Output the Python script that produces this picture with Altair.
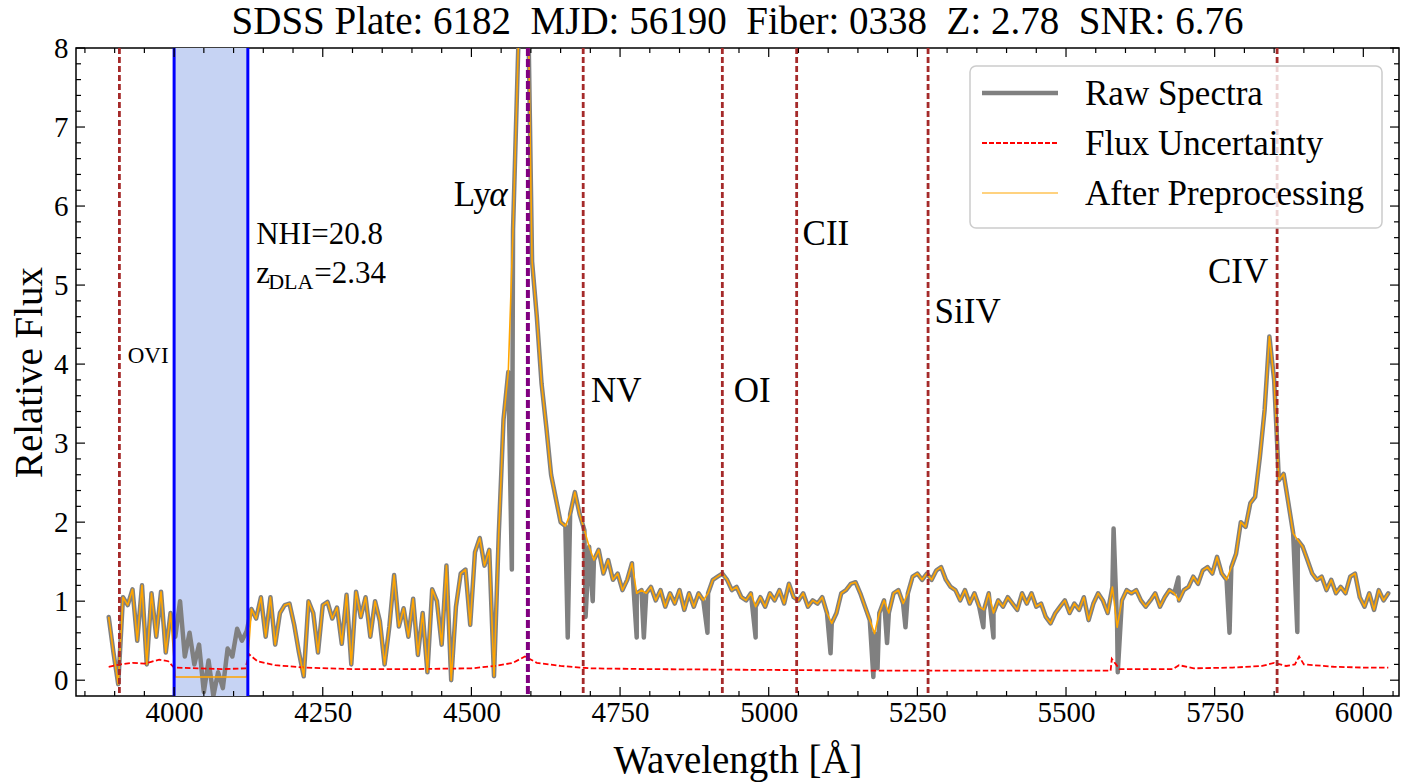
import altair as alt
import numpy as np
import pandas as pd

FONT = "Liberation Serif"
TITLE = "SDSS Plate: 6182 \u00a0MJD: 56190 \u00a0Fiber: 0338 \u00a0Z: 2.78 \u00a0SNR: 6.76"

# ---- spectrum ----
WAVE_START = 3890
WAVE_STEP = 8
FLUX_PRE = [
    0.80, 0.35, -0.05, 1.05, 0.95, 1.15, 0.50, 1.20, 0.20, 1.10, 0.55, 1.12, 0.35, 0.85,
    0.04, 0.04, 0.04, 0.04, 0.04, 0.04, 0.04, 0.04, 0.04, 0.04, 0.04, 0.04, 0.04, 0.04, 0.04, 0.04,
    0.90, 0.78, 1.05, 0.55, 1.05, 0.45, 0.85, 0.95, 0.97, 0.70,
    0.35, 0.05, 1.00, 0.85, 0.35, 0.95, 0.99, 0.78, 0.92, 0.46,
    1.08, 0.20, 1.12, 0.80, 1.05, 0.55, 1.00, 0.75, 0.20, 0.68,
    1.33, 0.68, 0.91, 0.55, 1.03, 0.32, 0.85, 0.10, 1.15, 1.00,
    0.45, 1.45, 0.00, 0.93, 1.35, 1.40, 0.70, 1.62, 1.80, 1.45,
    1.65, 0.05, 1.85, 3.30, 3.90, 5.70, 7.80, 9.80, 9.20, 5.30,
    4.60, 3.75, 3.20, 2.60, 2.30, 2.00, 1.95, 2.10, 2.38, 2.10,
    1.90, 1.69, 1.52, 1.65, 1.35, 1.52, 1.27, 1.35, 1.14, 1.27,
    1.48, 1.10, 1.14, 1.10, 1.18, 1.01, 1.14, 0.93, 1.10, 0.97,
    1.14, 0.89, 1.10, 0.93, 1.10, 1.01, 1.10, 1.27, 1.31, 1.35,
    1.27, 1.14, 1.18, 1.05, 1.01, 1.10, 0.93, 1.05, 0.93, 1.10,
    1.01, 1.14, 0.97, 1.22, 1.05, 1.01, 1.10, 0.93, 1.01, 0.97,
    1.05, 0.85, 0.72, 0.85, 1.10, 1.14, 1.22, 1.24, 1.10, 0.93,
    0.76, 0.59, 0.85, 1.01, 0.85, 1.10, 1.14, 0.97, 1.10, 1.31,
    1.35, 1.27, 1.35, 1.27, 1.39, 1.43, 1.27, 1.18, 1.14, 1.01,
    1.14, 0.97, 1.10, 0.93, 0.89, 1.10, 0.85, 1.01, 0.93, 1.05,
    0.97, 0.89, 1.10, 0.97, 1.10, 0.93, 0.97, 0.80, 0.72, 0.85,
    0.93, 1.01, 0.85, 0.97, 0.89, 1.05, 0.76, 0.97, 1.10, 1.01,
    0.85, 1.18, 0.67, 1.01, 1.14, 1.10, 1.14, 1.01, 0.93, 1.01,
    1.10, 0.93, 1.05, 1.14, 1.10, 1.01, 1.14, 1.18, 1.31, 1.22,
    1.39, 1.43, 1.35, 1.56, 1.35, 1.27, 1.43, 1.60, 2.00, 1.94,
    2.24, 2.32, 2.82, 3.42, 4.35, 3.80, 2.53, 2.61, 2.24, 1.86,
    1.77, 1.69, 1.52, 1.35, 1.27, 1.31, 1.14, 1.27, 1.10, 1.18,
    1.10, 1.31, 1.35, 1.05, 0.93, 1.10, 0.89, 1.14, 1.01, 1.10,
]
DLA_START_INDEX = 14
DLA_RAW = [0.55, 1.00, 0.30, 0.60, 0.20, 0.45, -0.15, 0.25, -0.20, 0.10, -0.10, 0.40, 0.30, 0.65, 0.50, 0.62]
SPIKE_WAVE = [4568, 4662, 4692, 4704, 4778, 4790, 4897, 4978, 5104, 5176, 5183, 5199, 5230,
              5361, 5378, 5580, 5587, 5689, 5775, 5889]
SPIKE_FLUX = [1.40, 0.54, 0.80, 1.00, 0.54, 0.54, 0.60, 0.54, 0.34, 0.04, 0.15, 0.47, 0.67,
              0.67, 0.54, 1.92, 0.10, 1.30, 0.60, 0.61]

ERR_WAVE = [3890, 3910, 3930, 3950, 3960, 3975, 3990, 4000, 4040, 4080, 4120, 4126, 4140, 4170,
            4220, 4300, 4400, 4500, 4540, 4570, 4590, 4610, 4650, 4700, 4800, 5000, 5200, 5400,
            5575, 5577, 5590, 5680, 5690, 5715, 5780, 5830, 5850, 5870, 5885, 5892, 5900, 5950,
            6000, 6042]
ERR_FLUX = [0.17, 0.20, 0.22, 0.21, 0.23, 0.26, 0.24, 0.16, 0.15, 0.14, 0.15, 0.33, 0.24, 0.19,
            0.16, 0.14, 0.14, 0.15, 0.18, 0.22, 0.30, 0.22, 0.18, 0.15, 0.14, 0.13, 0.12, 0.12,
            0.12, 0.27, 0.14, 0.14, 0.19, 0.15, 0.16, 0.18, 0.22, 0.18, 0.20, 0.30, 0.20, 0.17,
            0.16, 0.16]

SERIES = ["Raw Spectra", "Flux Uncertainty", "After Preprocessing"]

LINE_NAMES = ["OVI", "NV", "OI", "CII", "SiIV", "CIV"]
LINE_WAVES = [3908, 4688, 4922, 5047, 5268, 5855]
LYA_WAVE = [4595]
DLA_EDGES = [4000, 4124]

X_MAJOR = list(range(4000, 6001, 250))
X_MINOR = [v for v in range(3850, 6051, 50) if v not in X_MAJOR]
Y_MAJOR = list(range(0, 9))
Y_MINOR = [round(0.2 * k, 1) for k in range(1, 40) if k % 5 != 0]

# ---- frames ----
wave = WAVE_START + WAVE_STEP * np.arange(len(FLUX_PRE))
pre_df = pd.DataFrame({"wave": wave, "flux": FLUX_PRE})
raw_flux = list(FLUX_PRE)
raw_flux[DLA_START_INDEX:DLA_START_INDEX + len(DLA_RAW)] = DLA_RAW
raw_df = pd.concat([pd.DataFrame({"wave": wave, "flux": raw_flux}),
                    pd.DataFrame({"wave": SPIKE_WAVE, "flux": SPIKE_FLUX})]).sort_values("wave")
err_df = pd.DataFrame({"wave": ERR_WAVE, "flux": ERR_FLUX})

W, H = 1323, 648
xs = alt.Scale(domain=[3835, 6060], nice=False, zero=False)
ys = alt.Scale(domain=[-0.2, 8], nice=False, zero=False)
x_axis = alt.Axis(values=X_MAJOR, format="d", ticks=False, domain=False, grid=False,
                  labelFont=FONT, labelFontSize=29, labelPadding=2, labelColor="black",
                  title="Wavelength [Å]", titleFont=FONT, titleFontSize=39,
                  titleFontWeight="normal", titleColor="black", titlePadding=14)
y_axis = alt.Axis(values=Y_MAJOR, format="d", ticks=False, domain=False, grid=False,
                  labelFont=FONT, labelFontSize=29, labelPadding=8, labelColor="black",
                  title="Relative Flux", titleFont=FONT, titleFontSize=39,
                  titleFontWeight="normal", titleColor="black", titlePadding=4)
X = alt.X("wave:Q", scale=xs, axis=x_axis)
Y = alt.Y("flux:Q", scale=ys, axis=y_axis)

layers = []

# DLA band
dla_df = pd.DataFrame({"wave": [DLA_EDGES[0]], "wave2": [DLA_EDGES[1]]})
layers.append(alt.Chart(dla_df).mark_rect(color="#c6d3f3").encode(x=X, x2="wave2:Q"))

# spectra
layers.append(alt.Chart(raw_df).mark_line(color="#808080", strokeWidth=4.5, strokeJoin="round",
                                          strokeCap="round", clip=True).encode(x=X, y=Y))
layers.append(alt.Chart(err_df).mark_line(color="#ff0000", strokeWidth=1.8, strokeDash=[5.5, 2.5],
                                          clip=True).encode(x=X, y=Y))
layers.append(alt.Chart(pre_df).mark_line(color="#ffa500", strokeWidth=1.6, strokeJoin="round",
                                          clip=True).encode(x=X, y=Y))

# emission lines
lines_df = pd.DataFrame({"wave": LINE_WAVES, "name": LINE_NAMES})
layers.append(alt.Chart(lines_df).mark_rule(color="#a52a2a", strokeWidth=2.8, strokeDash=[6, 3]).encode(x=X))
layers.append(alt.Chart(pd.DataFrame({"wave": LYA_WAVE})).mark_rule(
    color="#800080", strokeWidth=4, strokeDash=[8, 3]).encode(x=X))
layers.append(alt.Chart(pd.DataFrame({"wave": DLA_EDGES})).mark_rule(
    color="#0000ff", strokeWidth=3).encode(x=X))

# ticks (inward, all sides)
def xticks(vals, length):
    df = pd.DataFrame({"wave": vals})
    b = alt.Chart(df).mark_rule(color="black", strokeWidth=1.2).encode(x=X, y=alt.value(H), y2=alt.value(H - length))
    t = alt.Chart(df).mark_rule(color="black", strokeWidth=1.2).encode(x=X, y=alt.value(0), y2=alt.value(length))
    return [b, t]

def yticks(vals, length):
    df = pd.DataFrame({"flux": vals})
    l = alt.Chart(df).mark_rule(color="black", strokeWidth=1.2).encode(y=Y, x=alt.value(0), x2=alt.value(length))
    r = alt.Chart(df).mark_rule(color="black", strokeWidth=1.2).encode(y=Y, x=alt.value(W), x2=alt.value(W - length))
    return [l, r]

layers += xticks(X_MAJOR, 9) + xticks(X_MINOR, 5) + yticks(Y_MAJOR, 9) + yticks(Y_MINOR, 5)

# line labels
def label(texts, waves, fluxes, size, align="left", dx=0, dy=0, italic=False):
    df = pd.DataFrame({"wave": waves, "flux": fluxes, "label": texts})
    return alt.Chart(df).mark_text(font=FONT, fontSize=size, align=align, baseline="alphabetic",
                                   dx=dx, dy=dy, color="black",
                                   fontStyle="italic" if italic else "normal").encode(x=X, y=Y, text="label:N")

layers.append(label(["NV", "OI", "CII", "SiIV"], [4701, 4941, 5057, 5279], [3.52, 3.52, 5.51, 4.52], 35))
layers.append(label(["CIV"], [5840], [5.02], 35, align="right"))
layers.append(label(["Ly"], [4561], [6.0], 35, align="right", dx=-17))
layers.append(label(["α"], [4561], [6.0], 35, align="right", italic=True))
layers.append(label(["OVI"], [3922], [4.02], 23))
layers.append(label(["NHI=20.8"], [4138], [5.52], 31))
layers.append(label(["z"], [4138], [5.03], 31))
layers.append(label(["DLA"], [4138], [5.03], 22, dx=12, dy=6))
layers.append(label(["=2.34"], [4138], [5.03], 31, dx=58))

# legend (drawn in the plot's top-right corner)
one = pd.DataFrame({"k": [0]})
layers.append(alt.Chart(one).mark_rect(fill="white", fillOpacity=0.8, stroke="#cccccc", strokeWidth=1.5,
                                       cornerRadius=6).encode(x=alt.value(894), x2=alt.value(1306),
                                                              y=alt.value(18), y2=alt.value(180)))
leg_styles = [("#808080", 4.5, [1, 0]), ("#ff0000", 1.8, [5, 2]), ("#ffa500", 1.2, [1, 0])]
for i, (name, (col, sw, dash)) in enumerate(zip(SERIES, leg_styles)):
    yc = 45 + 50 * i
    layers.append(alt.Chart(one).mark_rule(color=col, strokeWidth=sw, strokeDash=dash).encode(
        x=alt.value(906), x2=alt.value(982), y=alt.value(yc)))
    layers.append(alt.Chart(pd.DataFrame({"label": [name]})).mark_text(
        font=FONT, fontSize=35, align="left", baseline="alphabetic", color="black").encode(
        x=alt.value(1009), y=alt.value(yc + 12), text="label:N"))

chart = alt.layer(*layers).properties(
    width=W, height=H,
    title=alt.TitleParams(TITLE, font=FONT, fontSize=39, fontWeight="normal", color="black",
                          anchor="middle", offset=-8),
    autosize=alt.AutoSizeParams(type="none"),
    padding={"left": 76, "top": 48, "right": 19, "bottom": 87},
).configure_view(stroke="black", strokeWidth=1.5)

chart.save("out.html", embed_options={"renderer": "svg", "actions": False})
